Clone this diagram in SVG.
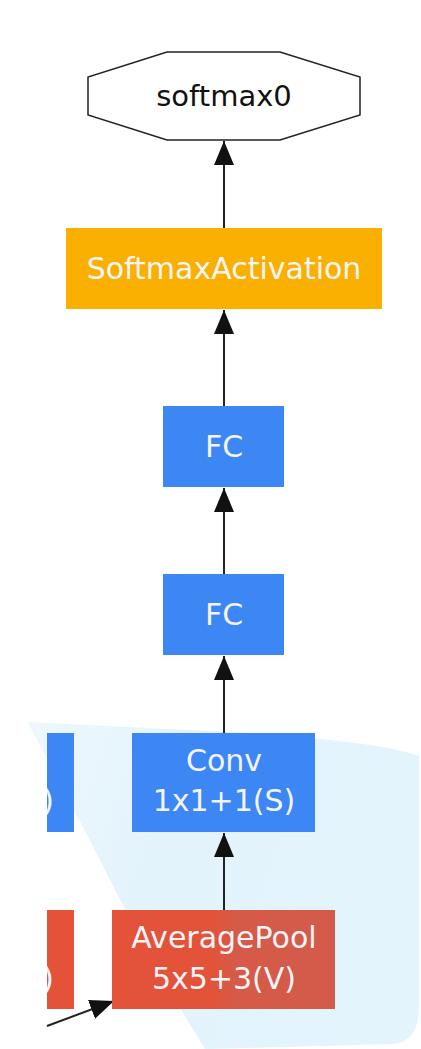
<svg xmlns="http://www.w3.org/2000/svg" width="421" height="1049" viewBox="0 0 421 1049">
<defs>
<style>
.lbl{font-family:"DejaVu Sans","Liberation Sans",sans-serif;font-size:30px;text-anchor:middle;fill:#f4f4f8}
.dark{fill:#111;font-size:29px}
.edge{stroke:#222;stroke-width:2;fill:none}
.blue{fill:#3d87f4}
.red{fill:#e4523a}
</style>
<marker id="ah" markerUnits="userSpaceOnUse" markerWidth="25" markerHeight="20" refX="24" refY="10" orient="auto" viewBox="0 0 25 20">
<path d="M0,0 L24,10 L0,20 z" fill="#111"/>
</marker>
<linearGradient id="pool" x1="0" y1="0" x2="1" y2="0">
<stop offset="0" stop-color="#e4523a"/>
<stop offset="0.45" stop-color="#e2533a"/>
<stop offset="0.55" stop-color="#d65a48"/>
<stop offset="1" stop-color="#d35b4a"/>
</linearGradient>
<linearGradient id="bg" x1="0" y1="0" x2="1" y2="0.3">
<stop offset="0" stop-color="#eef8fd"/>
<stop offset="0.4" stop-color="#e3f3fc"/>
<stop offset="1" stop-color="#e4f4fd"/>
</linearGradient>
<clipPath id="cut"><rect x="47" y="0" width="374" height="1049"/></clipPath>
</defs>
<rect width="421" height="1049" fill="#fff"/>
<path d="M27,722 L250,733 Q380,742 419,756 L419,1010 Q418,1040 395,1044 L205,1049 Q150,960 110,880 Q70,800 27,722 z" fill="url(#bg)"/>

<g id="connectors">
<line class="edge" x1="224" y1="228" x2="224" y2="141" marker-end="url(#ah)"/>
<line class="edge" x1="224" y1="406" x2="224" y2="310" marker-end="url(#ah)"/>
<line class="edge" x1="224" y1="574" x2="224" y2="488" marker-end="url(#ah)"/>
<line class="edge" x1="224" y1="733" x2="224" y2="656" marker-end="url(#ah)"/>
<line class="edge" x1="224" y1="910" x2="224" y2="833" marker-end="url(#ah)"/>
<line class="edge" x1="47" y1="1026" x2="114" y2="1001" marker-end="url(#ah)"/>
</g>

<g id="softmax0">
<polygon points="167,52 280,52 360,77 360,115 280,140 167,140 88,115 88,77" fill="#fff" stroke="#222" stroke-width="1.5"/>
<text class="lbl dark" x="224" y="106">softmax0</text>
</g>

<g id="softmaxactivation">
<rect x="66" y="228" width="316" height="81" fill="#f9b000"/>
<text class="lbl" x="224" y="279">SoftmaxActivation</text>
</g>

<g id="fc1">
<rect class="blue" x="163" y="406" width="121" height="81"/>
<text class="lbl" x="224" y="457">FC</text>
</g>

<g id="fc2">
<rect class="blue" x="163" y="574" width="121" height="81"/>
<text class="lbl" x="224" y="625">FC</text>
</g>

<g id="conv">
<rect class="blue" x="132" y="733" width="183" height="99"/>
<text class="lbl" x="224" y="771">Conv</text>
<text class="lbl" x="224" y="811">1x1+1(S)</text>
</g>

<g id="averagepool">
<rect x="112" y="910" width="223" height="99" fill="url(#pool)"/>
<text class="lbl" x="224" y="948">AveragePool</text>
<text class="lbl" x="224" y="989">5x5+3(V)</text>
</g>

<g id="left-blue" clip-path="url(#cut)">
<rect class="blue" x="40" y="733" width="34" height="99"/>
<text class="lbl" x="54" y="811" style="text-anchor:end">)</text>
</g>

<g id="left-red" clip-path="url(#cut)">
<rect class="red" x="40" y="910" width="34" height="99"/>
<text class="lbl" x="54" y="989" style="text-anchor:end">)</text>
</g>
</svg>
